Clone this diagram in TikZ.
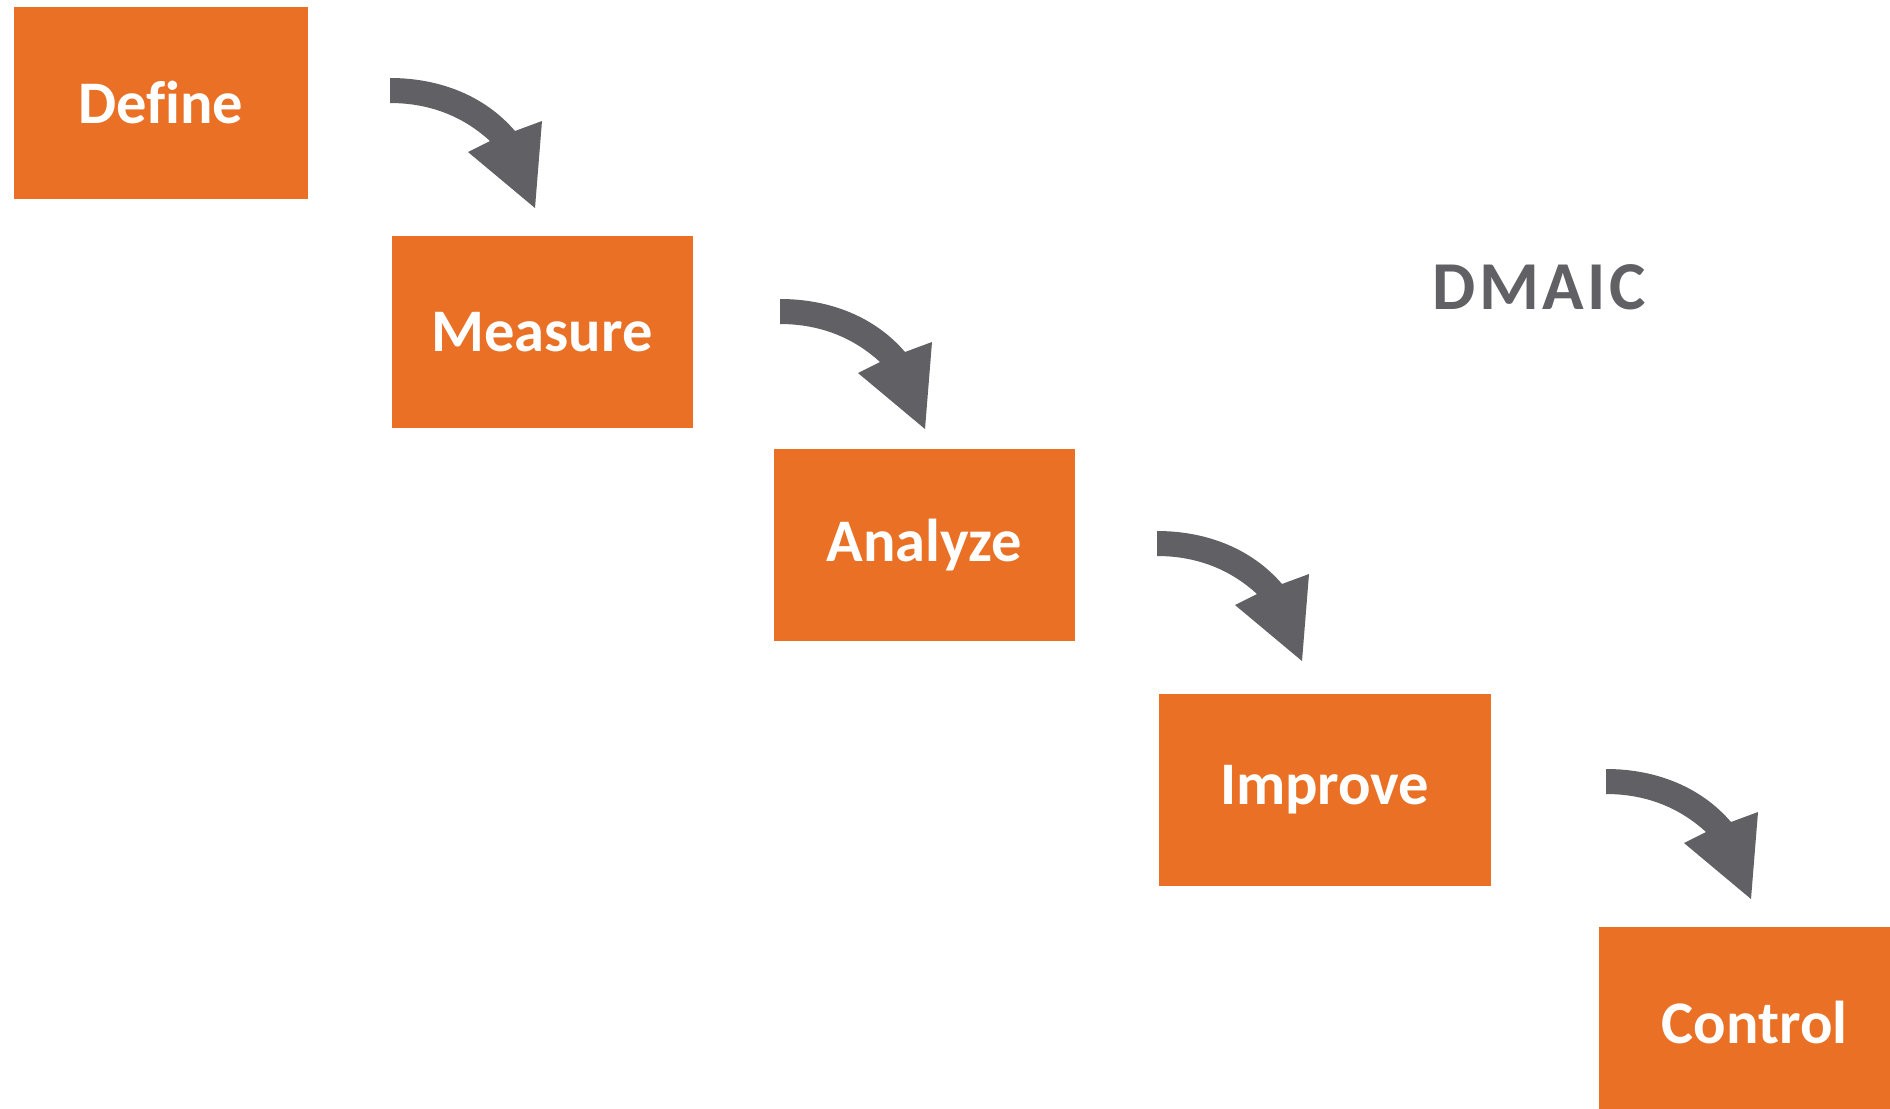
\documentclass[tikz,border=0pt]{standalone}
\usepackage{fontspec}
\setmainfont[Ligatures={NoCommon}]{Carlito}
\definecolor{boxorange}{HTML}{E97025}
\definecolor{arrowgray}{HTML}{606065}
\begin{document}
\begin{tikzpicture}[x=0.01cm,y=-0.01cm,
  stepbox/.style={fill=boxorange, draw=none, minimum width=#1*0.01cm, minimum height=1.92cm,
    inner sep=0pt, text=white, font=\fontsize{17.2}{20}\selectfont\bfseries, anchor=north west},
  stepbox/.default=300,
  curvedarrow/.pic={
    \fill[arrowgray] (0,0) .. controls (50,0) and (95,18) .. (125,53)
      -- (152,43) -- (145,130) -- (78,74) -- (100,63)
      .. controls (75,40) and (42,25) .. (0,25) -- cycle;
  }]
\useasboundingbox (0,0) rectangle (1890,1108);
\fill[white] (0,0) rectangle (1890,1108);
\begin{scope}
\clip (0,0) rectangle (1890,1108);
\node[stepbox=294] (define) at (13,6) {Define};
\node[stepbox=301] (measure) at (391,235) {Measure};
\node[stepbox=301] (analyze) at (773,448) {Analyze};
\node[stepbox=332] (improve) at (1158,693) {Improve};
\node[stepbox=312] (control) at (1598,926) {Control};
\end{scope}
\node[text=arrowgray, font=\fontsize{19.5}{22}\selectfont\bfseries\addfontfeatures{LetterSpace=5}] (dmaic) at (1539,287) {DMAIC};
\pic at (390,78) {curvedarrow};
\pic at (780,299) {curvedarrow};
\pic at (1157,531) {curvedarrow};
\pic at (1606,769) {curvedarrow};
\end{tikzpicture}
\end{document}
